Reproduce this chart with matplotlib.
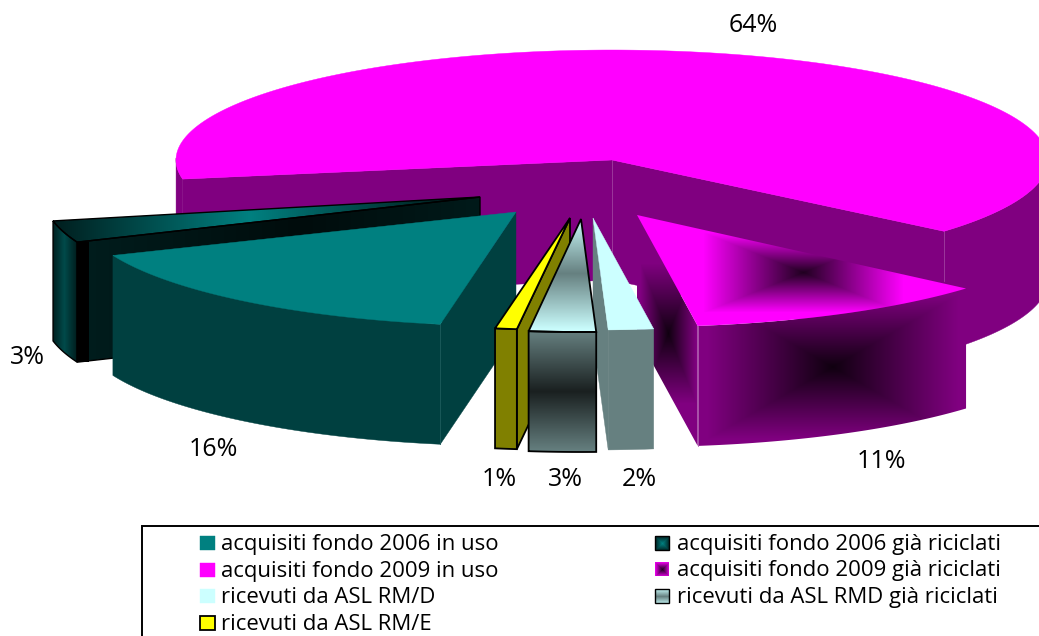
import numpy as np
import matplotlib
matplotlib.use("Agg")
import matplotlib.pyplot as plt
from matplotlib.colors import to_rgb
from matplotlib.patches import Polygon, Rectangle

labels = ["acquisiti fondo 2006 in uso", "acquisiti fondo 2006 già riciclati",
          "acquisiti fondo 2009 in uso", "acquisiti fondo 2009 già riciclati",
          "ricevuti da ASL RM/D", "ricevuti da ASL RMD già riciclati",
          "ricevuti da ASL RM/E"]
values = [16, 3, 64, 11, 2, 3, 1]

FONT = "Open Sans"
RX = 436
DEPTH = 120
START = -101.6

# center x, center y, vertical radius, nudge of start and stop angle
layout = [(516, 212, 114, 1.6, 1.6),
          (480, 197, 118, 1.7, 1.7),
          (612, 160, 110, 0, 0),
          (637, 215, 112, -0.6, -2),
          (593, 218, 112, -2, -0.8),
          (581, 219, 113, -0.8, 1.1),
          (570, 218, 112, 1, 1.7)]

fig = plt.figure(figsize=(10.39, 6.36), dpi=100)
ax = fig.add_axes([0, 0, 1, 1])


def shade(poly, edge, mid, cx, cy, wx, wy, z):
    # box shaped gradient, mid colour at (cx, cy) and edge colour at the outside
    xs, ys = poly[:, 0], poly[:, 1]
    x0, x1, y0, y1 = xs.min(), xs.max(), ys.min(), ys.max()
    X, Y = np.meshgrid(np.arange(x0, x1 + 1), np.arange(y0, y1 + 1))
    t = np.clip(np.maximum(abs(X - cx) / wx, abs(Y - cy) / wy), 0, 1)[..., None]
    img = np.array(to_rgb(mid)) * (1 - t) + np.array(to_rgb(edge)) * t
    im = ax.imshow(img, extent=(x0, x1 + 1, y1 + 1, y0), zorder=z, aspect="auto")
    im.set_clip_path(Polygon(poly, transform=ax.transData))


def flat(poly, color, z, line=None, lw=1.3):
    ax.add_patch(Polygon(poly, closed=True, fc=color, ec=line if line else color,
                         lw=lw if line else 0.3, zorder=z))


def slice_parts(i):
    # angles come from the cumulated values, going clockwise
    a0 = START - sum(values[:i]) * 3.6 + layout[i][3]
    a1 = START - sum(values[:i + 1]) * 3.6 + layout[i][4]
    cx, cy, ry = layout[i][:3]
    th = np.radians(np.linspace(a0, a1, 400))
    rim = np.column_stack([cx + RX * np.cos(th), cy - ry * np.sin(th)])
    apex = np.array([cx, cy])
    down = np.array([0, DEPTH])
    top = np.vstack([apex, rim])
    # the big slice has two separate runs of rim facing the viewer
    keep = np.sin(th) < 0.02
    breaks = np.where(np.diff(keep.astype(int)) != 0)[0] + 1
    runs = [r for r, k in zip(np.split(rim, breaks), np.split(keep, breaks)) if k[0]]
    sides = [np.vstack([r, (r + down)[::-1]]) for r in runs]
    cut0 = np.array([apex, rim[0], rim[0] + down, apex + down])
    cut1 = np.array([apex, rim[-1], rim[-1] + down, apex + down])
    return top, sides, cut0, cut1


# big magenta slice, at the back
top, sides, cut0, cut1 = slice_parts(2)
flat(cut0, "#800080", 1)
flat(cut1, "#800080", 1)
for side in sides:
    flat(side, "#800080", 1)
flat(top, "#FF00FF", 2)
ax.plot([612, 612], [160, 285], color="#A040A0", lw=0.6, zorder=1.5)
ax.plot([cut1[1, 0]] * 2, [cut1[1, 1], cut1[1, 1] + 50], color="#A040A0", lw=0.6, zorder=1.5)

# dark teal slice
top, sides, cut0, cut1 = slice_parts(1)
side = sides[0]
shade(cut0, "#001E1E", "#000C0C", 300, 260, 230, 1e6, 3)
shade(np.array([cut0[1], cut0[1] + [12, 0], cut0[2] + [12, 0], cut0[2]]), "#000000", "#000000", 80, 300, 100, 1e6, 3.1)
shade(side, "#001818", "#004A4A", 64, 300, 14, 1e6, 3)
shade(top, "#001C1C", "#008080", 250, 210, 200, 1e6, 3)
for part in (cut0, side, top):
    flat(part, "none", 3.2, "black", 1.0)

# teal slice
top, sides, cut0, cut1 = slice_parts(0)
flat(cut0, "#004040", 4)
flat(sides[0], "#004040", 4)
flat(top, "#008080", 5)
ax.plot([cut0[1, 0]] * 2, [cut0[1, 1], cut0[2, 1]], color="#1A5A5A", lw=0.6, zorder=4.5)

# dark magenta slice
top, sides, cut0, cut1 = slice_parts(3)
shade(cut1, "#800080", "#100010", 668, 333, 28, 70, 6)
shade(sides[0], "#800080", "#100010", 832, 367, 125, 72, 6)
shade(top, "#FF00FF", "#200020", 803, 272, 100, 40, 7)
ax.plot([cut1[1, 0]] * 2, [cut1[1, 1], cut1[2, 1]], color="#B060B0", lw=0.6, zorder=7)

# pale slice
top, sides, cut0, cut1 = slice_parts(4)
flat(cut1, "#668080", 6)
flat(sides[0], "#668080", 6)
flat(top, "#CCFFFF", 7)

# yellow slice
top, sides, cut0, cut1 = slice_parts(6)
flat(cut0, "#808000", 8, "black")
flat(sides[0], "#808000", 8, "black")
flat(top, "#FFFF00", 9, "black")

# grey slice with the banded shading
top, sides, cut0, cut1 = slice_parts(5)
shade(sides[0], "#668080", "#1A2020", 0, 391, 1e6, 60, 10)
shade(top, "#CCFFFF", "#668080", 0, 273, 1e6, 57, 10)
flat(sides[0], "none", 11, "black")
flat(top, "none", 11, "black")

# percent labels
label_pos = [(213, 449), (27, 358), (753, 26), (881, 462), (639, 480), (565, 480), (499, 480)]
for v, (x, y) in zip(values, label_pos):
    ax.text(x, y, f"{v}%", ha="center", va="center", fontsize=18, family=FONT, zorder=20)

# legend box
ax.add_patch(Rectangle((142, 526), 920, 130, fc="white", ec="black", lw=1.4, zorder=20))
leg_x = [200, 655, 200, 655, 200, 655, 200]
leg_y = [543, 543, 570, 569, 596, 596, 623]
for i, lab in enumerate(labels):
    x, y = leg_x[i], leg_y[i]
    n = 15 if x == 200 else 14
    sq = np.array([[x, y - 7], [x + n, y - 7], [x + n, y + 7], [x, y + 7]])
    if i == 1:
        shade(sq, "#001818", "#008080", x + 7, y, 8, 8, 21)
        flat(sq, "none", 22, "black", 1.0)
    elif i == 3:
        shade(sq, "#FF00FF", "#200020", x + 7, y, 8, 8, 21)
    elif i == 5:
        shade(sq, "#CCFFFF", "#668080", x + 7, y, 1e6, 8, 21)
        flat(sq, "none", 22, "black", 1.0)
    elif i == 6:
        flat(sq, "#FFFF00", 21, "black", 1.3)
    else:
        flat(sq, ["#008080", "", "#FF00FF", "", "#CCFFFF"][i], 21)
    ax.text(x + (21 if x == 200 else 22), y + 1.5, lab, ha="left", va="center", fontsize=15.9, family=FONT, zorder=22)

ax.set_xlim(0, 1039)
ax.set_ylim(636, 0)
ax.axis("off")
fig.savefig("out.png", dpi=100)
plt.close(fig)
